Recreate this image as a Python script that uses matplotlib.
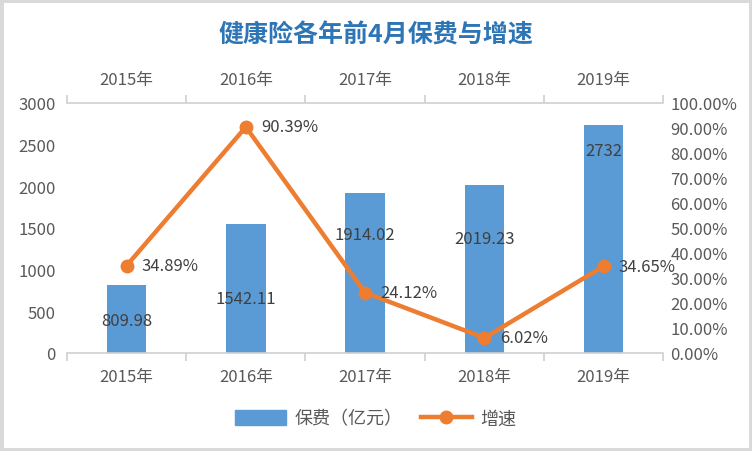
import numpy as np
import matplotlib
matplotlib.use('Agg')
import matplotlib.pyplot as plt
from matplotlib.patches import Rectangle

plt.rcParams['font.family'] = ['Noto Sans CJK SC', 'DejaVu Sans']

years = ['2015年', '2016年', '2017年', '2018年', '2019年']
premium = [809.98, 1542.11, 1914.02, 2019.23, 2732]
premium_labels = ['809.98', '1542.11', '1914.02', '2019.23', '2732']
growth = [34.89, 90.39, 24.12, 6.02, 34.65]
# where the bar labels sit (left-axis units), moved by hand in the original
bar_label_y = [384, 648, 1416, 1368, 2424]

blue = '#5B9BD5'
orange = '#ED7D31'
gray = '#595959'
dark = '#404040'
fs = 12

fig = plt.figure(figsize=(7.52, 4.52), dpi=100)
fig.patches.append(Rectangle((0, 0), 1, 1, transform=fig.transFigure,
                             fill=False, edgecolor='#d9d9d9', linewidth=5))
ax = fig.add_axes([0.089, 0.217, 0.793, 0.553])
x = np.arange(len(years))

ax.bar(x, premium, width=0.33, color=blue, zorder=2)
ax.set_ylim(0, 3000)
ax.set_xlim(-0.5, len(years) - 0.5)
ax.set_yticks(np.arange(0, 3001, 500))
ax.tick_params(axis='y', length=0, labelsize=fs, labelcolor=gray, pad=8)
for s in ['left', 'right', 'top']:
    ax.spines[s].set_visible(False)
ax.spines['bottom'].set_color('#d0d0d0')
ax.spines['bottom'].set_linewidth(1.2)

ax.set_xticks(x)
ax.set_xticklabels(years)
ax.set_xticks(np.arange(-0.5, len(years)), minor=True)
ax.tick_params(axis='x', which='major', length=0, labelsize=fs, labelcolor=gray, pad=11)
ax.tick_params(axis='x', which='minor', length=6, color='#d0d0d0', width=1.2)

for xi, yl, lab in zip(x, bar_label_y, premium_labels):
    ax.text(xi, yl, lab, ha='center', va='center', fontsize=fs, color=dark, zorder=5)

# top category axis
axt = ax.secondary_xaxis('top')
axt.set_xticks(x)
axt.set_xticklabels(years)
axt.set_xticks(np.arange(-0.5, len(years)), minor=True)
axt.tick_params(axis='x', which='major', length=0, labelsize=fs, labelcolor=gray, pad=11)
axt.tick_params(axis='x', which='minor', length=6, color='#d0d0d0', width=1.2)
axt.spines['top'].set_color('#d0d0d0')
axt.spines['top'].set_linewidth(1.2)

ax2 = ax.twinx()
ax2.plot(x, growth, color=orange, linewidth=3.2, marker='o', markersize=9, zorder=4)
ax2.set_ylim(0, 100)
ax2.set_yticks(np.arange(0, 101, 10))
ax2.set_yticklabels(['%.2f%%' % v for v in np.arange(0, 101, 10)])
ax2.tick_params(axis='y', length=0, labelsize=fs, labelcolor=gray, pad=5)
for s in ['left', 'right', 'top', 'bottom']:
    ax2.spines[s].set_visible(False)
for xi, g in zip(x, growth):
    ax2.annotate('%.2f%%' % g, (xi, g), xytext=(11, 0), textcoords='offset points',
                 ha='left', va='center', fontsize=fs, color=dark, zorder=6)

fig.text(0.5, 0.922, '健康险各年前4月保费与增速', ha='center', va='center',
         fontsize=18, fontweight='bold', color='#2E75B6')

h1 = Rectangle((0, 0), 1, 1, color=blue)
h2, = ax2.plot([], [], color=orange, linewidth=3.2, marker='o', markersize=9)
fig.legend([h1, h2], ['保费（亿元）', '增速'], loc='center', bbox_to_anchor=(0.5, 0.072),
           ncol=2, frameon=False, fontsize=13, labelcolor=gray,
           handlelength=2.8, handleheight=0.9, columnspacing=1.0, handletextpad=0.5)

fig.savefig('out.png', dpi=100, facecolor='white')
